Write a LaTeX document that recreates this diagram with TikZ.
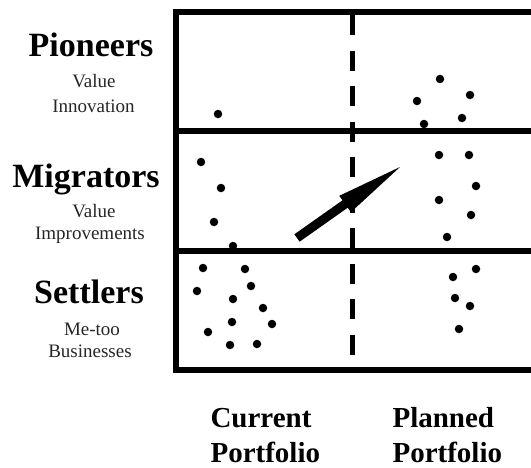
\documentclass[tikz,border=0pt]{standalone}
\usepackage{fontspec}
\setmainfont{Liberation Serif}
\begin{document}
\begin{tikzpicture}[x=1pt,y=-1pt,
  frame/.style={line width=6pt},
  divider/.style={line width=5pt,dash pattern=on 20pt off 15.5pt},
  dot/.style={circle,fill=black,inner sep=0pt,minimum size=8.5pt},
  bigl/.style={font=\fontsize{34}{34}\selectfont\bfseries,anchor=base},
  smalll/.style={font=\fontsize{19}{19}\selectfont,text=black!85,anchor=base},
  axisl/.style={font=\fontsize{29}{29}\selectfont\bfseries,anchor=base west}]
\useasboundingbox (0,0) rectangle (531,467);
\clip (0,0) rectangle (531,467);
% frame
\coordinate (tl) at (176,12);
\coordinate (br) at (545,370);
\draw[frame] (545,12) -- (tl) -- (176,370) -- (br);
\draw[frame] (176,131) -- (545,131);
\draw[frame] (176,251) -- (545,251);
\draw[divider] (352,15) -- (352,372);
% row labels
\node[bigl] (pio) at (91,56) {Pioneers};
\node[smalll] (pio1) at (94,87) {Value};
\node[smalll] (pio2) at (93.5,112) {Innovation};
\node[bigl] (mig) at (86,187) {Migrators};
\node[smalll] (mig1) at (94,217) {Value};
\node[smalll] (mig2) at (90,239) {Improvements};
\node[bigl] (set) at (89,303) {Settlers};
\node[smalll] (set1) at (92,335) {Me-too};
\node[smalll] (set2) at (90,357) {Businesses};
% column labels
\node[axisl] (cur1) at (207,427) {Current};
\node[axisl] (cur2) at (207,462) {Portfolio};
\node[axisl] (pl1) at (389,427) {Planned};
\node[axisl] (pl2) at (389,462) {Portfolio};
% dots
\foreach \x/\y [count=\i] in {218/114, 440/79, 417/101, 470/95, 462/118, 424/124,
  201/162, 221/188, 214/222, 233/246, 439/155, 469/155, 476/186, 439/200, 471/215, 447/237,
  203/268, 245/269, 197/291, 251/286, 233/299, 263/308, 232/322, 272/324, 208/332, 230/345, 257/344,
  476/269, 453/277, 455/298, 470/306, 459/329}
  \node[dot] (d\i) at (\x,\y) {};
% arrow
\coordinate (t1) at (299.6,241.7);
\coordinate (t2) at (294.4,234.3);
\coordinate (b1) at (342.5,200.3);
\coordinate (b2) at (339.3,195.8);
\coordinate (tip) at (400,167);
\coordinate (b3) at (350.9,212.2);
\coordinate (b4) at (347.7,207.7);
\fill (t1) -- (t2) -- (b1) -- (b2) -- (tip) -- (b3) -- (b4) -- cycle;
\end{tikzpicture}
\end{document}
